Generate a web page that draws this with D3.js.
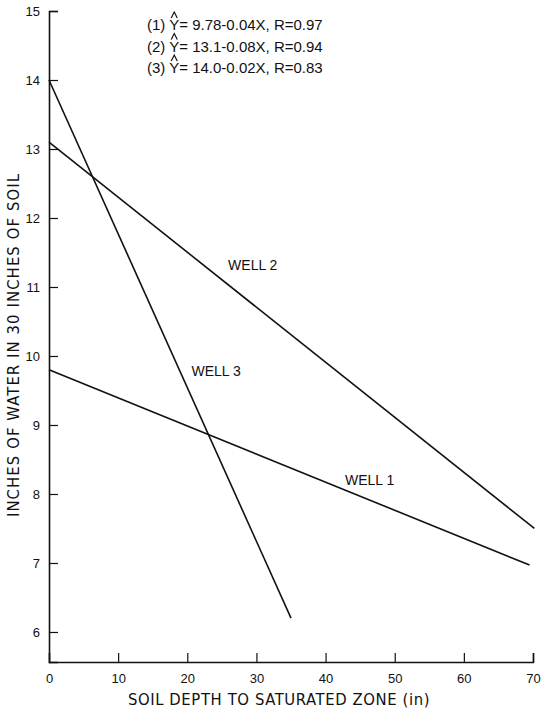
<!DOCTYPE html>
<html>
<head>
<meta charset="utf-8">
<script src="https://cdn.jsdelivr.net/npm/d3@7"></script>
<style>
  body { margin: 0; background: #fff; }
  text { font-family: "Liberation Sans", Arial, sans-serif; fill: #111; }
  .narrow { font-family: "Liberation Sans Narrow", "DejaVu Sans Condensed", "Arial Narrow", sans-serif; }
</style>
</head>
<body>
<svg id="chart" width="543" height="708"></svg>
<script>
// regression lines
var wellNames = ["WELL 1", "WELL 2", "WELL 3"];
var depthStart = [0, 0, 0];
var depthEnd = [69.5, 70.2, 35.0];
var waterStart = [9.80, 13.10, 14.00];
var waterEnd = [6.97, 7.50, 6.20];

var eqNumbers = ["(1)", "(2)", "(3)"];
var eqBodies = ["= 9.78-0.04X, R=0.97", "= 13.1-0.08X, R=0.94", "= 14.0-0.02X, R=0.83"];

var xTicks = [0, 10, 20, 30, 40, 50, 60, 70];
var yTicks = [6, 7, 8, 9, 10, 11, 12, 13, 14, 15];

var svg = d3.select("#chart");

var x = d3.scaleLinear()
    .domain([0, 70])
    .range([49, 533]);

var y = d3.scaleLinear()
    .domain([5.565, 15])
    .range([662, 11]);

// axes, ticks pointing inward
var xAxis = svg.append("g")
    .attr("transform", "translate(0," + y(5.565) + ")")
    .call(d3.axisBottom(x)
        .tickValues(xTicks)
        .tickSize(-9)
        .tickPadding(12)
        .tickFormat(d3.format("d")));

var yAxis = svg.append("g")
    .attr("transform", "translate(" + x(0) + ",0)")
    .call(d3.axisLeft(y)
        .tickValues(yTicks)
        .tickSize(-9)
        .tickPadding(16)
        .tickFormat(d3.format("d")));

[xAxis, yAxis].forEach(function(a) {
  a.select(".domain").attr("stroke", "#111").attr("stroke-width", 1.6);
  a.selectAll(".tick line").attr("stroke", "#111").attr("stroke-width", 1.2);
  a.selectAll(".tick text")
      .attr("font-family", "Liberation Sans, Arial, sans-serif")
      .attr("font-size", 13)
      .attr("fill", "#111");
});

// no tick mark at the origin
xAxis.selectAll(".tick").filter(function(d) { return d === 0; }).select("line").remove();
yAxis.selectAll(".tick text").attr("dx", 7);

// well lines
svg.append("g")
  .selectAll("line")
  .data(wellNames)
  .enter().append("line")
    .attr("x1", function(d, i) { return x(depthStart[i]); })
    .attr("y1", function(d, i) { return y(waterStart[i]); })
    .attr("x2", function(d, i) { return x(depthEnd[i]); })
    .attr("y2", function(d, i) { return y(waterEnd[i]); })
    .attr("stroke", "#111")
    .attr("stroke-width", 1.6);

// labels next to each line
var labelAt = [[42.8, 8.13], [25.9, 11.25], [20.6, 9.71]];
svg.append("g")
  .selectAll("text")
  .data(wellNames)
  .enter().append("text")
    .attr("x", function(d, i) { return x(labelAt[i][0]); })
    .attr("y", function(d, i) { return y(labelAt[i][1]); })
    .attr("font-size", 14)
    .text(function(d) { return d; });

// regression equations
var eqY = function(i) { return 30 + i * 21.5; };

var eq = svg.append("g")
    .selectAll("text")
    .data(eqNumbers)
    .enter().append("text")
      .attr("x", 147)
      .attr("y", function(d, i) { return eqY(i); })
      .attr("font-size", 15);

eq.append("tspan").text(function(d) { return d + " "; });
eq.append("tspan").attr("class", "yhat").text("Y");
eq.append("tspan").text(function(d, i) { return eqBodies[i]; });

// hats over the Y, drawn as small chevrons
svg.append("g")
  .selectAll("path")
  .data(eqNumbers)
  .enter().append("path")
    .attr("d", function(d, i) {
      var node = eq.nodes()[i].querySelector(".yhat");
      var b = node.getBBox();
      var cx = b.x + b.width / 2, top = eqY(i) - 12;
      return "M" + (cx - 3) + "," + top + "L" + cx + "," + (top - 6) + "L" + (cx + 3) + "," + top;
    })
    .attr("fill", "none")
    .attr("stroke", "#111")
    .attr("stroke-width", 1.2);

svg.append("text")
    .attr("class", "narrow")
    .attr("x", 279)
    .attr("y", 705)
    .attr("text-anchor", "middle")
    .attr("font-size", 16.5)
    .attr("letter-spacing", 0.6)
    .text("SOIL DEPTH TO SATURATED ZONE (in)");

svg.append("text")
    .attr("class", "narrow")
    .attr("transform", "translate(19,345) rotate(-90)")
    .attr("text-anchor", "middle")
    .attr("font-size", 16.5)
    .attr("letter-spacing", 1.1)
    .text("INCHES OF WATER IN 30 INCHES OF SOIL");
</script>
</body>
</html>
